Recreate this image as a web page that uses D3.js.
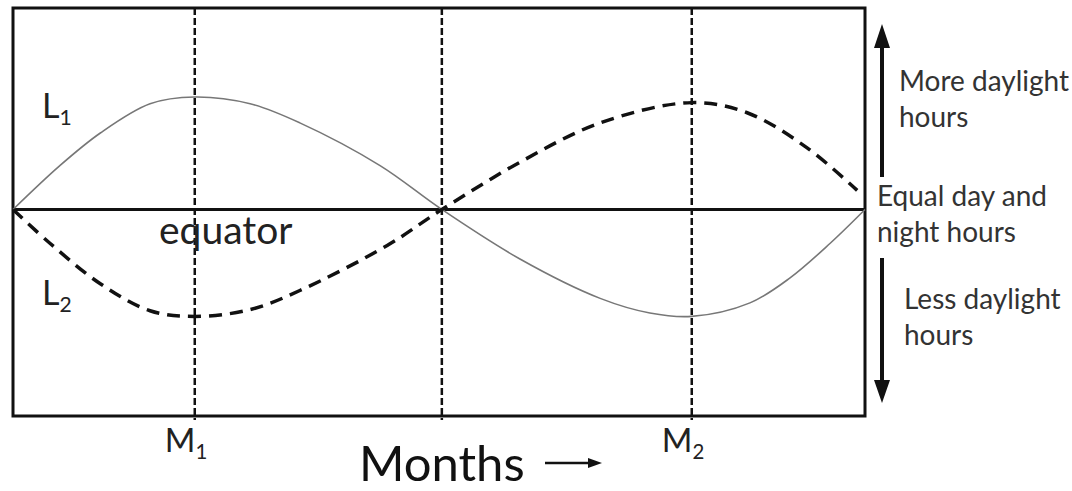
<!DOCTYPE html>
<html>
<head>
<meta charset="utf-8">
<script src="https://cdn.jsdelivr.net/npm/d3@7"></script>
<style>
  body { margin: 0; background: #fff; }
  text { font-family: Lato, "Open Sans", sans-serif; }
</style>
</head>
<body>
<div id="chart"></div>
<script>
const l1Months = [0, 0.66, 1.23, 1.93, 2.56, 3.34, 4.04, 5.17, 6.04, 7.14, 8.27, 8.97, 9.56, 10.38, 10.94, 11.51, 12];
// L1: daylight above/below equal day & night (relative units)
const l1Values = [0, 0.39, 0.68, 0.94, 1.0, 0.94, 0.77, 0.39, 0, -0.44, -0.79, -0.92, -0.95, -0.83, -0.61, -0.3, 0];

const l2Months = [0, 0.52, 1.23, 1.93, 2.56, 3.34, 4.04, 5.27, 6.04, 7.14, 8.27, 9.56, 10.34, 11.18, 11.89];
const l2Values = [0, -0.30, -0.66, -0.90, -0.95, -0.89, -0.72, -0.32, 0, 0.42, 0.77, 0.95, 0.86, 0.55, 0.17];

// marked months on the x axis
const markMonths = [2.56, 6.04, 9.56];
const markLabels = [['M', '1'], null, ['M', '2']];

const width = 1072;
const height = 491;
const mLeft = 13, mRight = 865, mTop = 8, mBottom = 416;

const svg = d3.select('#chart').append('svg')
    .attr('width', width)
    .attr('height', height);

const x = d3.scaleLinear().domain([0, 12]).range([mLeft, mRight]);
const y = d3.scaleLinear().domain([-1, 1]).range([322, 97]);
// y(0) ~ 209.5

// frame
svg.append('rect')
    .attr('x', mLeft).attr('y', mTop)
    .attr('width', mRight - mLeft).attr('height', mBottom - mTop)
    .attr('fill', 'none')
    .attr('stroke', '#111')
    .attr('stroke-width', 3);

// vertical dashed month lines
svg.append('g')
    .selectAll('line')
    .data(markMonths)
    .enter().append('line')
    .attr('x1', d => x(d)).attr('x2', d => x(d))
    .attr('y1', mTop).attr('y2', mBottom + 4)
    .attr('stroke', '#111')
    .attr('stroke-width', 2.5)
    .attr('stroke-dasharray', '7,3');

// equator
svg.append('line')
    .attr('x1', mLeft).attr('x2', mRight)
    .attr('y1', y(0)).attr('y2', y(0))
    .attr('stroke', '#111')
    .attr('stroke-width', 3);

const line = d3.line()
    .x(d => x(d[0]))
    .y(d => y(d[1]))
    .curve(d3.curveCatmullRom.alpha(0.5));

// L1 solid grey
svg.append('path')
    .datum(d3.zip(l1Months, l1Values))
    .attr('d', line)
    .attr('fill', 'none')
    .attr('stroke', '#777')
    .attr('stroke-width', 1.6);

// L2 dashed black
svg.append('path')
    .datum(d3.zip(l2Months, l2Values))
    .attr('d', line)
    .attr('fill', 'none')
    .attr('stroke', '#111')
    .attr('stroke-width', 3.5)
    .attr('stroke-dasharray', '13,8');

// label helper with subscript
function subLabel(px, py, main, sub, size) {
    const t = svg.append('text')
        .attr('x', px).attr('y', py)
        .attr('font-size', size)
        .attr('fill', '#222');
    t.append('tspan').text(main);
    t.append('tspan')
        .attr('font-size', size * 0.62)
        .attr('dy', size * 0.22)
        .text(sub);
}

subLabel(42, 118, 'L', '1', 34);
subLabel(42, 305, 'L', '2', 34);

svg.append('text')
    .attr('x', 159).attr('y', 244)
    .attr('font-size', 39)
    .attr('fill', '#222')
    .text('equator');

// month labels under the axis
markMonths.forEach((m, i) => {
    if (!markLabels[i]) return;
    subLabel(x(m) - 30, 452, markLabels[i][0], markLabels[i][1], 33);
});

svg.append('text')
    .attr('x', 359).attr('y', 481)
    .attr('font-size', 49)
    .attr('fill', '#111')
    .text('Months');

// small arrow after "Months"
svg.append('line')
    .attr('x1', 545).attr('x2', 592)
    .attr('y1', 463).attr('y2', 463)
    .attr('stroke', '#111')
    .attr('stroke-width', 2.5);
svg.append('path')
    .attr('d', 'M588,458 L602,463 L588,468 Z')
    .attr('fill', '#111');

// side arrows
svg.append('line')
    .attr('x1', 882).attr('x2', 882)
    .attr('y1', 177).attr('y2', 44)
    .attr('stroke', '#111').attr('stroke-width', 4);
svg.append('path')
    .attr('d', 'M874,48 L882,24 L890,48 Z')
    .attr('fill', '#111');
svg.append('line')
    .attr('x1', 882).attr('x2', 882)
    .attr('y1', 258).attr('y2', 385)
    .attr('stroke', '#111').attr('stroke-width', 4);
svg.append('path')
    .attr('d', 'M874,380 L882,403 L890,380 Z')
    .attr('fill', '#111');

// side text
const sideText = [
    { lines: ['More daylight', 'hours'], x: 899, y: 91 },
    { lines: ['Equal day and', 'night hours'], x: 877, y: 206 },
    { lines: ['Less daylight', 'hours'], x: 904, y: 309 }
];
sideText.forEach(s => {
    s.lines.forEach((t, i) => {
        svg.append('text')
            .attr('x', s.x).attr('y', s.y + i * 36)
            .attr('font-size', 28)
            .attr('fill', '#333')
            .text(t);
    });
});
</script>
</body>
</html>
